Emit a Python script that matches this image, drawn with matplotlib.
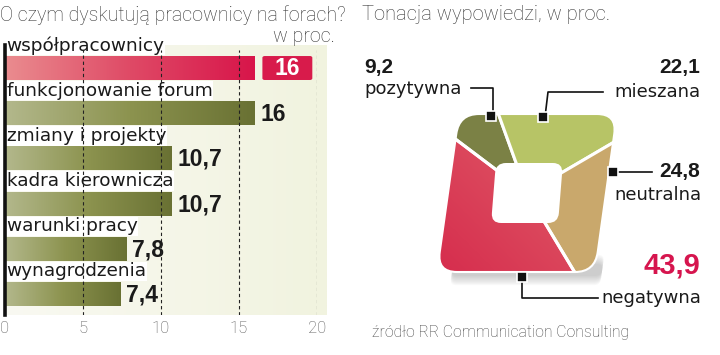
import numpy as np
import matplotlib
matplotlib.use("Agg")
import matplotlib.pyplot as plt
from matplotlib.patches import FancyBboxPatch
from matplotlib.transforms import Affine2D
from matplotlib.lines import Line2D
from matplotlib.colors import LinearSegmentedColormap

# ---------------- data ----------------
topics = ["współpracownicy", "funkcjonowanie forum", "zmiany i projekty",
          "kadra kierownicza", "warunki pracy", "wynagrodzenia"]
topic_values = [16, 16, 10.7, 10.7, 7.8, 7.4]
topic_labels = ["16", "16", "10,7", "10,7", "7,8", "7,4"]
x_ticks = [0, 5, 10, 15, 20]

tone_names = ["pozytywna", "mieszana", "neutralna", "negatywna"]
tone_values = [9.2, 22.1, 24.8, 43.9]
tone_labels = ["9,2", "22,1", "24,8", "43,9"]

title_left = "O czym dyskutują pracownicy na forach?"
unit_left = "w proc."
title_right = "Tonacja wypowiedzi, w proc."
source = "źródło RR Communication Consulting"

W, H = 720, 355
fig = plt.figure(figsize=(W / 100, H / 100), dpi=100)
fig.patch.set_facecolor("white")

def fbox(x0, y0, w, h):
    """pixel box (top-left origin) -> figure fraction rect"""
    return [x0 / W, 1 - (y0 + h) / H, w / W, h / H]

LIGHT = dict(family=["Roboto", "DejaVu Sans"], fontweight="light")
REG = dict(family=["DejaVu Sans"], fontweight="normal")
BOLD = dict(family=["Liberation Sans", "DejaVu Sans"], fontweight="bold")

# ---------------- left bar chart ----------------
ax = fig.add_axes(fbox(5, 45, 312, 270))
ax.set_facecolor("none")
YLIM = (5.463, -0.509)

bg = np.linspace(0, 1, 256).reshape(1, -1)
bg_cmap = LinearSegmentedColormap.from_list("bg", ["#f9f9f2", "#f1f3df"])
ax.imshow(bg, cmap=bg_cmap, aspect="auto", extent=(0, 20.6, YLIM[0], YLIM[1]),
          zorder=0, clip_on=False)

green_cmap = LinearSegmentedColormap.from_list("g", ["#b3b88c", "#8c934f", "#697133"])
red_cmap = LinearSegmentedColormap.from_list("r", ["#ea8c8f", "#df4a66", "#d8154a"])

ypos = np.arange(len(topics))
bars = ax.barh(ypos, topic_values, height=0.53, color="none", zorder=2)
grad = np.linspace(0, 1, 256).reshape(1, -1)
for i, b in enumerate(bars):
    cm = red_cmap if i == 0 else green_cmap
    x0, y0 = b.get_x(), b.get_y()
    w, h = b.get_width(), b.get_height()
    im = ax.imshow(grad, cmap=cm, aspect="auto",
                   extent=(x0, x0 + w, y0 + h, y0), zorder=2)
    im.set_clip_path(b)

ax.set_xlim(0, 20)
ax.set_ylim(*YLIM)

for i, t in enumerate(topics):
    ax.text(0.1, i - 0.5, t, ha="left", va="center", fontsize=13.3,
            color="#1a1a1a", zorder=3,
            bbox=dict(boxstyle="square,pad=0.04", fc="white", ec="none"), **REG)

for i, (v, lab) in enumerate(zip(topic_values, topic_labels)):
    if i == 0:
        badge = FancyBboxPatch((v + 0.5, i - 0.265), 3.2, 0.53,
                               boxstyle="round,pad=0,rounding_size=0.15",
                               fc="#d81b4b", ec="none", zorder=3,
                               mutation_aspect=0.25)
        ax.add_patch(badge)
        ax.text(v + 0.5 + 1.6, i + 0.02, lab, ha="center", va="center",
                fontsize=16.5, color="white", zorder=4, **BOLD)
    else:
        ax.text(v + 0.35, i + 0.02, lab, ha="left", va="center",
                fontsize=16.5, color="#1a1a1a", zorder=4, **BOLD)

for xv in x_ticks[1:]:
    ax.axvline(xv, ymin=0, ymax=0.98, color="#222222", lw=0.8,
               ls=(0, (3, 2.5)), zorder=5)

for s in ["top", "right", "bottom"]:
    ax.spines[s].set_visible(False)
ax.spines["left"].set_linewidth(2.6)
ax.spines["left"].set_color("#111111")
ax.spines["left"].set_zorder(6)
ax.set_yticks([])
ax.set_xticks(x_ticks)
ax.set_xticklabels([str(t) for t in x_ticks])
ax.tick_params(axis="x", length=0, pad=4, labelsize=12, labelcolor="#555555")
for lbl in ax.get_xticklabels():
    lbl.set_fontfamily(["Roboto", "DejaVu Sans"])
    lbl.set_fontweight("light")

# ---------------- right square "pie" ----------------
pax = fig.add_axes(fbox(427, 93, 200, 200))
pax.set_facecolor("none")
pax.axis("off")
pax.set_xlim(-1, 1)
pax.set_ylim(-1, 1)
pax.set_aspect("equal")

skew = Affine2D().skew(np.arctan(0.14), 0)
half = 0.79
RS = "round,pad=0,rounding_size=0.2"
outer = FancyBboxPatch((-half, -half), 2 * half, 2 * half, boxstyle=RS,
                       transform=skew + pax.transData, fc="none", ec="none")
pax.add_patch(outer)

# soft shadow under the shape
for k in range(8):
    sh = FancyBboxPatch((-half + 0.15, -half - 0.04 - 0.013 * k), 2 * half - 0.08,
                        0.12 + 0.026 * k, boxstyle="round,pad=0,rounding_size=0.06",
                        transform=skew + pax.transData, fc="#555555", ec="none",
                        alpha=0.04, zorder=0)
    pax.add_patch(sh)

# red gradient base, seen through the negatywna wedge
gy, gx = np.mgrid[0:1:200j, 0:1:200j]
gval = (gx + gy) / 2
neg_cmap = LinearSegmentedColormap.from_list("n", ["#d42448", "#dc4a5e", "#e4737a"])
img = pax.imshow(gval, cmap=neg_cmap, extent=(-1.1, 1.1, 1.1, -1.1), zorder=1)
img.set_clip_path(outer)

colors = ["#7b8145", "#b7c466", "#c9a86c", "none"]
wedges, _ = pax.pie(tone_values, startangle=143, counterclock=False, radius=2.0,
                    colors=colors,
                    wedgeprops=dict(edgecolor="white", linewidth=2.2))
for w in wedges:
    w.set_clip_on(True)
    w.set_clip_path(outer)
    w.set_zorder(2)
edge = FancyBboxPatch((-half, -half), 2 * half, 2 * half, boxstyle=RS,
                      transform=skew + pax.transData, fc="none", ec="white",
                      lw=1.5, zorder=3)
pax.add_patch(edge)
inner = FancyBboxPatch((-0.335, -0.30), 0.67, 0.60,
                       boxstyle="round,pad=0,rounding_size=0.1",
                       transform=Affine2D().skew(np.arctan(0.08), 0) + pax.transData,
                       fc="white", ec="none", zorder=4)
pax.add_patch(inner)
pax.set_xlim(-1, 1)
pax.set_ylim(-1, 1)

# ---------------- overlay for texts & leaders (pixel coords) ----------------
ov = fig.add_axes([0, 0, 1, 1], zorder=10)
ov.set_xlim(0, W)
ov.set_ylim(H, 0)
ov.axis("off")
ov.patch.set_alpha(0)

ov.text(0, 15, title_left, ha="left", va="center", fontsize=14.1, color="#333333", **LIGHT)
ov.text(335, 36, unit_left, ha="right", va="center", fontsize=14.1, color="#333333", **LIGHT)
ov.text(362, 15, title_right, ha="left", va="center", fontsize=14.5, color="#333333", **LIGHT)
ov.text(372, 332, source, ha="left", va="center", fontsize=11.3, color="#444444", **LIGHT)

def leader(pts, marker_pt):
    xs, ys = zip(*pts)
    ov.add_line(Line2D(xs, ys, color="#111111", lw=1.2))
    ov.plot([marker_pt[0]], [marker_pt[1]], marker="s", ms=6.5, mfc="#111111",
            mec="white", mew=1.2, zorder=12)

# pozytywna
leader([(493, 116), (493, 88), (471, 88)], (491, 116))
ov.text(364, 67, tone_labels[0], ha="left", va="center", fontsize=15, color="#1a1a1a", **BOLD)
ov.text(364, 89, tone_names[0], ha="left", va="center", fontsize=13, color="#1a1a1a", **REG)
# mieszana
leader([(545, 117), (548, 92), (603, 92)], (543, 117))
ov.text(700, 68, tone_labels[1], ha="right", va="center", fontsize=15, color="#1a1a1a", **BOLD)
ov.text(700, 92, tone_names[1], ha="right", va="center", fontsize=13, color="#1a1a1a", **REG)
# neutralna
leader([(613, 172), (652, 172)], (613, 172))
ov.text(700, 172, tone_labels[2], ha="right", va="center", fontsize=15, color="#1a1a1a", **BOLD)
ov.text(702, 195, tone_names[2], ha="right", va="center", fontsize=13, color="#1a1a1a", **REG)
# negatywna
leader([(522, 277), (522, 298), (598, 298)], (522, 277))
ov.text(700, 266, tone_labels[3], ha="right", va="center", fontsize=21, color="#d6154e", **BOLD)
ov.text(701, 298, tone_names[3], ha="right", va="center", fontsize=13, color="#1a1a1a", **REG)

fig.savefig("out.png", dpi=100, facecolor="white")
